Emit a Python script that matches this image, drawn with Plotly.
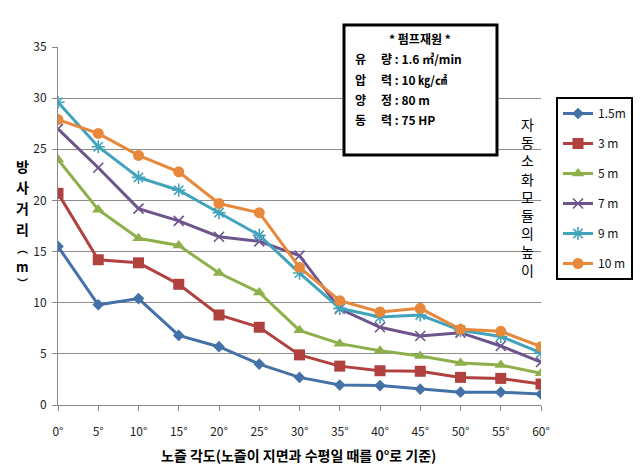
import plotly.graph_objects as go

angles = [0, 5, 10, 15, 20, 25, 30, 35, 40, 45, 50, 55, 60]
angle_labels = ["0°", "5°", "10°", "15°", "20°", "25°", "30°", "35°", "40°", "45°", "50°", "55°", "60°"]

h_1_5m = [15.5, 9.8, 10.4, 6.8, 5.7, 4.0, 2.7, 1.95, 1.9, 1.55, 1.25, 1.25, 1.07]
h_3m = [20.7, 14.2, 13.9, 11.8, 8.8, 7.6, 4.9, 3.8, 3.35, 3.3, 2.7, 2.6, 2.05]
h_5m = [24.0, 19.1, 16.3, 15.6, 12.9, 11.0, 7.3, 6.0, 5.3, 4.8, 4.1, 3.9, 3.1]
h_7m = [27.0, 23.2, 19.2, 18.0, 16.45, 16.0, 14.6, 9.4, 7.6, 6.75, 7.07, 5.77, 4.2]
h_9m = [29.6, 25.25, 22.25, 21.0, 18.8, 16.6, 12.9, 9.45, 8.6, 8.8, 7.3, 6.7, 5.1]
h_10m = [27.9, 26.55, 24.4, 22.8, 19.7, 18.8, 13.45, 10.2, 9.1, 9.45, 7.4, 7.2, 5.7]

series_names = ["1.5m", "3 m", "5 m", "7 m", "9 m", "10 m"]
series_values = [h_1_5m, h_3m, h_5m, h_7m, h_9m, h_10m]
colors = ["#4472A8", "#B0413E", "#8DB04B", "#6E548D", "#42A3BC", "#E8883A"]
symbols = ["diamond", "square", "triangle-up", "x-thin", "asterisk", "circle"]
sizes = [9, 11, 11, 10, 11, 11]

pump_title = "* 펌프재원 *"
pump_lines = [("유", "량", ": 1.6 ㎥/min"), ("압", "력", ": 10 ㎏/㎠"), ("양", "정", ": 80 m"), ("동", "력", ": 75 HP")]

y_title_chars = ["방", "사", "거", "리", "︵", "m", "︶"]
right_text = "자<br>동<br>소<br>화<br>모<br>듈<br>의<br>높<br>이"
x_title = "노즐 각도(노즐이 지면과 수평일 때를 0°로 기준)"

FONT = "Noto Sans CJK KR"
W, H = 644, 470
L, R, T, B = 58, 541, 47, 405


def px(x):
    return (x - L) / (R - L)


def py(y):
    return (B - y) / (B - T)


fig = go.Figure()
for name, vals, c, s, sz in zip(series_names, series_values, colors, symbols, sizes):
    thin = s in ("x-thin", "asterisk")
    fig.add_trace(go.Scatter(
        x=angles, y=vals, name=name, mode="lines+markers",
        line=dict(color=c, width=3),
        marker=dict(symbol=s, size=sz, color=c,
                    line=dict(color=c, width=1.6 if thin else 0)),
        legendgroup=name,
    ))

fig.update_layout(
    width=W, height=H,
    margin=dict(l=L, r=W - R, t=T, b=H - B, autoexpand=False),
    paper_bgcolor="white", plot_bgcolor="white",
    font=dict(family=FONT, size=12, color="#222222"),
    showlegend=True,
    legend=dict(
        x=px(556), y=py(97), xanchor="left", yanchor="top",
        bordercolor="black", borderwidth=2, bgcolor="white",
        font=dict(size=12, color="#111111", family=FONT),
        itemwidth=30, tracegroupgap=11, traceorder="grouped",
    ),
    xaxis=dict(
        range=[0, 60], tickmode="array", tickvals=angles, ticktext=angle_labels,
        showgrid=False, showline=True, linecolor="#888888", linewidth=1,
        ticks="outside", ticklen=5, tickcolor="#888888",
        tickfont=dict(size=12, color="#222222"), zeroline=False,
        ticklabelstandoff=11,
    ),
    yaxis=dict(
        range=[0, 35], dtick=5, showgrid=True, gridcolor="#8c8c8c", gridwidth=1,
        showline=True, linecolor="#888888", linewidth=1,
        ticks="outside", ticklen=5, tickcolor="#888888",
        tickfont=dict(size=12, color="#222222"), zeroline=False,
        ticklabelstandoff=3,
    ),
)

# pump info box
fig.add_shape(type="rect", xref="paper", yref="paper",
              x0=px(344), x1=px(497), y0=py(155), y1=py(25),
              line=dict(color="black", width=3), fillcolor="white", layer="above")
fig.add_annotation(xref="paper", yref="paper", x=px(420), y=py(38), text="<b>" + pump_title + "</b>",
                   showarrow=False, font=dict(size=12, color="black", family=FONT), xanchor="center", yanchor="middle")
for i, (a, b, v) in enumerate(pump_lines):
    yy = py(59 + 20.3 * i)
    fig.add_annotation(xref="paper", yref="paper", x=px(353), y=yy, text="<b>" + a + "</b>",
                       showarrow=False, font=dict(size=12, color="black", family=FONT), xanchor="left", yanchor="middle")
    fig.add_annotation(xref="paper", yref="paper", x=px(379), y=yy, text="<b>" + b + " " + v + "</b>",
                       showarrow=False, font=dict(size=12, color="black", family=FONT), xanchor="left", yanchor="middle")

# y axis title (vertical stacked, one character per annotation)
y_pos = [166, 187, 208, 229, 248, 266, 283]
y_sizes = [14, 14, 14, 14, 11, 13, 11]
for ch, yp, fs in zip(y_title_chars, y_pos, y_sizes):
    fig.add_annotation(xref="paper", yref="paper", x=px(22), y=py(yp),
                       text="<b>" + ch + "</b>", showarrow=False,
                       font=dict(size=fs, color="black", family=FONT),
                       xanchor="center", yanchor="middle")

# right side vertical text
fig.add_annotation(xref="paper", yref="paper", x=px(527), y=py(197),
                   text=right_text,
                   showarrow=False, font=dict(size=14, color="black", family=FONT),
                   xanchor="center", yanchor="middle")

# x axis title
fig.add_annotation(xref="paper", yref="paper", x=px(298), y=py(455),
                   text="<b>" + x_title + "</b>",
                   showarrow=False, font=dict(size=14, color="black", family=FONT),
                   xanchor="center", yanchor="middle")

fig.write_html("out.html", post_script="document.body.style.margin='0';",
               config={"displayModeBar": False})
